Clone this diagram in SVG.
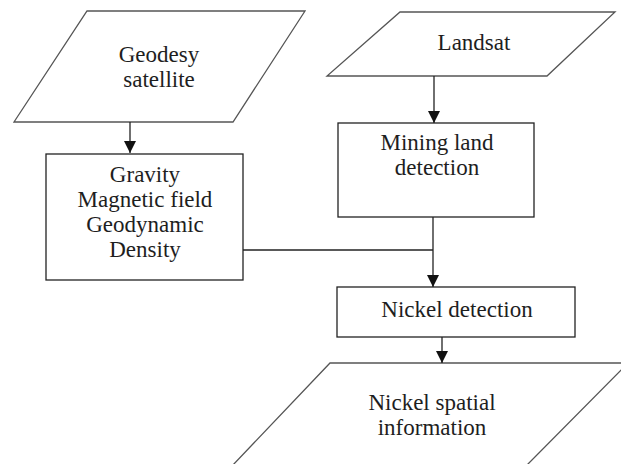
<svg xmlns="http://www.w3.org/2000/svg" width="621" height="464" viewBox="0 0 621 464">
<defs>
<style>
.io{fill:#fff;stroke:#555;stroke-width:1.3}
.box{fill:#fff;stroke:#222;stroke-width:1.3}
.t{font-family:'Liberation Serif','Times New Roman','DejaVu Serif',serif;font-size:23px;fill:#1e1e1e;text-anchor:middle}
.c{fill:none;stroke:#222;stroke-width:1.3}
</style>
<marker id="ah" markerWidth="12" markerHeight="12" refX="12" refY="6" orient="auto" markerUnits="userSpaceOnUse" viewBox="0 0 12 12">
<path d="M0,0 L12,6 L0,12 Z" fill="#111"/>
</marker>
</defs>
<rect width="621" height="464" fill="#fff"/>
<g id="geodesy">
<polygon class="io" points="87,11 305,11 233,122 14,122"/>
<text class="t" x="159" y="62">Geodesy</text>
<text class="t" x="159" y="87">satellite</text>
</g>
<g id="landsat">
<polygon class="io" points="400,12 615,12 547,76 327,76"/>
<text class="t" x="474" y="50">Landsat</text>
</g>
<g id="gravity">
<rect class="box" x="46" y="154" width="197" height="126"/>
<text class="t" x="145" y="182">Gravity</text>
<text class="t" x="145" y="207">Magnetic field</text>
<text class="t" x="145" y="232">Geodynamic</text>
<text class="t" x="145" y="257">Density</text>
</g>
<g id="mining">
<rect class="box" x="338" y="123" width="196" height="94"/>
<text class="t" x="437" y="150">Mining land</text>
<text class="t" x="437" y="175">detection</text>
</g>
<g id="nickel-detection">
<rect class="box" x="337" y="287" width="238" height="50"/>
<text class="t" x="457" y="317">Nickel detection</text>
</g>
<g id="nickel-info">
<polygon class="io" points="330,363 628,363 526,466 232,466"/>
<text class="t" x="432" y="410">Nickel spatial</text>
<text class="t" x="432" y="435">information</text>
</g>
<g id="connectors">
<line class="c" x1="130" y1="122" x2="130" y2="153" marker-end="url(#ah)"/>
<line class="c" x1="434" y1="76" x2="434" y2="123" marker-end="url(#ah)"/>
<polyline class="c" points="243,250 433,250"/>
<line class="c" x1="433" y1="217" x2="433" y2="287" marker-end="url(#ah)"/>
<line class="c" x1="442" y1="337" x2="442" y2="363" marker-end="url(#ah)"/>
</g>
</svg>
